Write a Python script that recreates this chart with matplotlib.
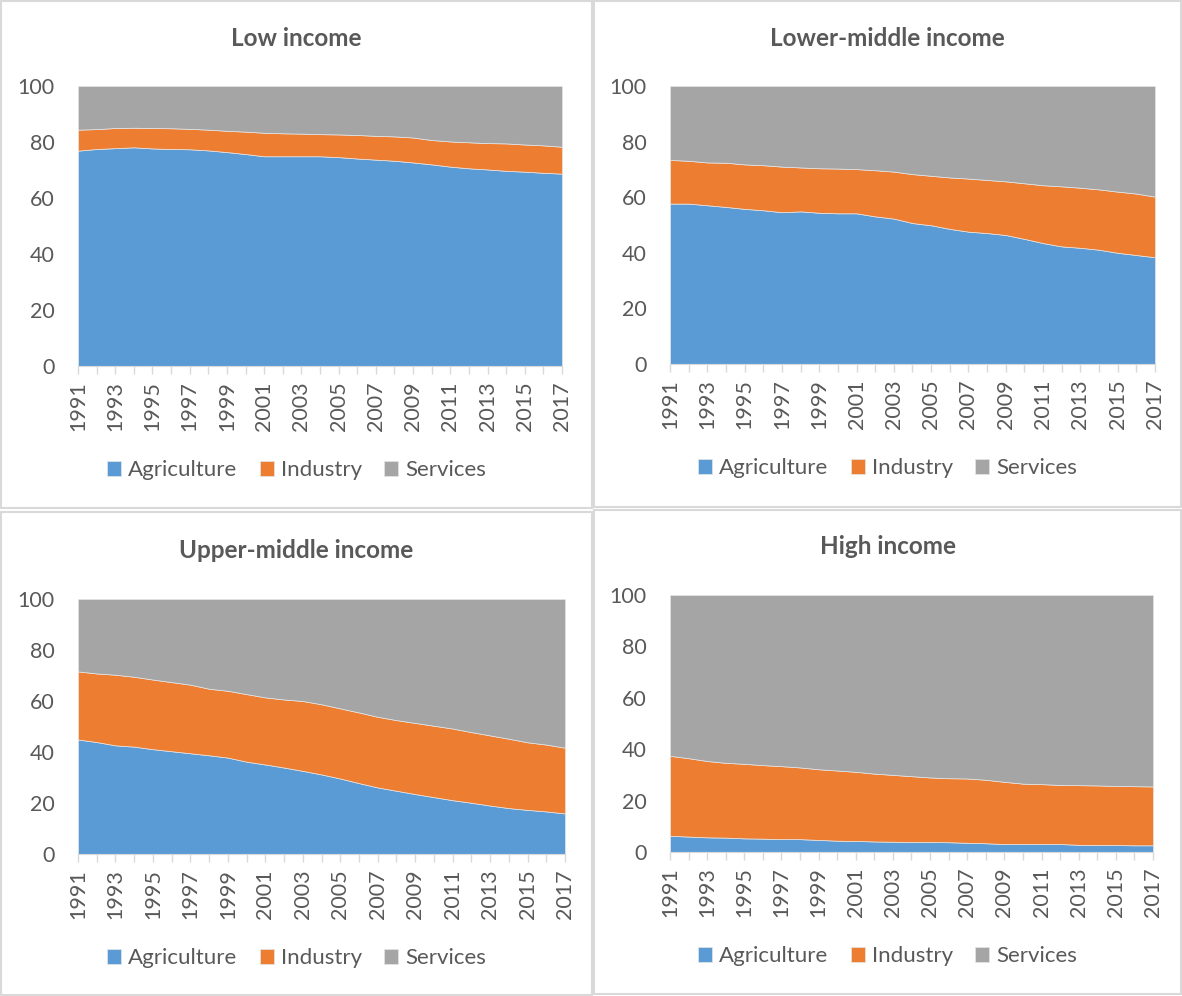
import matplotlib
matplotlib.use("Agg")
import matplotlib.pyplot as plt
from matplotlib.patches import Rectangle

plt.rcParams['font.family'] = ['Lato', 'DejaVu Sans']

years = list(range(1991, 2018))
year_labels = [str(y) if (y - 1991) % 2 == 0 else '' for y in years]
series_names = ['Agriculture', 'Industry', 'Services']
colors = ['#5B9BD5', '#ED7D31', '#A5A5A5']

# Low income
low_agri = [76.9, 77.5, 77.8, 78.1, 77.7, 77.5, 77.4, 77.0, 76.4, 75.7, 74.9, 74.9, 74.9, 74.9,
            74.6, 74.1, 73.7, 73.3, 72.7, 72.0, 71.2, 70.6, 70.2, 69.7, 69.4, 69.0, 68.7]
low_ind = [7.5, 7.1, 7.2, 7.0, 7.3, 7.4, 7.3, 7.4, 7.6, 8.0, 8.4, 8.2, 8.1, 7.9,
           8.1, 8.4, 8.5, 8.7, 8.9, 8.7, 9.0, 9.3, 9.4, 9.8, 9.7, 9.8, 9.6]
low_serv = [15.6, 15.4, 15.0, 14.9, 15.0, 15.1, 15.3, 15.6, 16.0, 16.3, 16.7, 16.9, 17.0, 17.2,
            17.3, 17.5, 17.8, 18.0, 18.4, 19.3, 19.8, 20.1, 20.4, 20.5, 20.9, 21.2, 21.7]

# Lower-middle income
lmid_agri = [57.7, 57.7, 57.1, 56.5, 55.8, 55.3, 54.6, 54.9, 54.4, 54.2, 54.2, 53.1, 52.3, 50.7,
             49.9, 48.6, 47.6, 47.1, 46.4, 45.0, 43.5, 42.3, 41.8, 41.1, 40.0, 39.2, 38.4]
lmid_ind = [15.7, 15.4, 15.4, 15.9, 16.0, 16.2, 16.4, 15.8, 16.0, 16.1, 15.9, 16.6, 16.9, 17.6,
            17.8, 18.5, 19.1, 19.1, 19.3, 20.0, 20.8, 21.6, 21.6, 21.7, 22.0, 22.1, 21.8]
lmid_serv = [26.6, 26.9, 27.5, 27.6, 28.2, 28.5, 29.0, 29.3, 29.6, 29.7, 29.9, 30.3, 30.8, 31.7,
             32.3, 32.9, 33.3, 33.8, 34.3, 35.0, 35.7, 36.1, 36.6, 37.2, 38.0, 38.7, 39.8]

# Upper-middle income
umid_agri = [44.9, 43.9, 42.6, 42.1, 41.1, 40.3, 39.5, 38.7, 37.8, 36.2, 35.1, 33.9, 32.6, 31.2,
             29.6, 27.8, 26.1, 24.8, 23.5, 22.3, 21.1, 20.1, 19.0, 18.0, 17.3, 16.7, 15.9]
umid_ind = [26.7, 26.9, 27.7, 27.4, 27.3, 27.1, 26.9, 26.1, 26.2, 26.5, 26.3, 26.7, 27.4, 27.5,
            27.5, 27.7, 27.7, 27.7, 27.9, 28.0, 28.1, 27.7, 27.5, 27.2, 26.5, 26.2, 25.8]
umid_serv = [28.4, 29.2, 29.7, 30.5, 31.6, 32.6, 33.6, 35.2, 36.0, 37.3, 38.6, 39.4, 40.0, 41.3,
             42.9, 44.5, 46.2, 47.5, 48.6, 49.7, 50.8, 52.2, 53.5, 54.8, 56.2, 57.1, 58.3]

# High income
high_agri = [6.3, 6.0, 5.7, 5.6, 5.3, 5.2, 5.0, 5.0, 4.7, 4.4, 4.3, 4.1, 4.0, 3.9,
             3.9, 3.8, 3.6, 3.4, 3.1, 3.1, 3.1, 3.1, 2.8, 2.7, 2.7, 2.6, 2.6]
high_ind = [31.1, 30.5, 29.7, 29.1, 29.0, 28.6, 28.4, 27.9, 27.5, 27.3, 26.9, 26.4, 26.0, 25.6,
            25.1, 24.9, 25.0, 24.7, 24.2, 23.5, 23.3, 23.0, 23.2, 23.2, 23.0, 23.0, 22.9]
high_serv = [62.6, 63.5, 64.6, 65.3, 65.7, 66.2, 66.6, 67.1, 67.8, 68.3, 68.8, 69.5, 70.0, 70.5,
             71.0, 71.3, 71.4, 71.9, 72.7, 73.4, 73.6, 73.9, 74.0, 74.1, 74.3, 74.4, 74.5]

W, H = 1182, 996
fig = plt.figure(figsize=(W / 100, H / 100), dpi=100)

# (title, data, panel box px (x0, y0, x1, y1), axes px (x0, y0, x1, y1), title y px, legend y px)
panels = [
    ('Low income', (low_agri, low_ind, low_serv),
     (1, 1, 592, 508), (78, 86, 562, 366), 38, 470),
    ('Lower-middle income', (lmid_agri, lmid_ind, lmid_serv),
     (594, 1, 1181, 507), (670, 86, 1155, 364), 38, 468),
    ('Upper-middle income', (umid_agri, umid_ind, umid_serv),
     (1, 512, 592, 995), (78, 599, 565, 854), 550, 958),
    ('High income', (high_agri, high_ind, high_serv),
     (594, 510, 1181, 994), (670, 595, 1153, 852), 547, 956),
]

text_col = '#595959'

for title, data, box, axpx, ty, ly in panels:
    # panel border
    bx0, by0, bx1, by1 = box
    fig.patches.append(Rectangle((bx0 / W, 1 - by1 / H), (bx1 - bx0) / W, (by1 - by0) / H,
                                 transform=fig.transFigure, fill=False,
                                 edgecolor='#D9D9D9', linewidth=1.5))
    x0, y0, x1, y1 = axpx
    ax = fig.add_axes([x0 / W, 1 - y1 / H, (x1 - x0) / W, (y1 - y0) / H])
    ax.stackplot(years, *data, colors=colors, labels=series_names,
                 edgecolor='#E6E6E6', linewidth=0.5)
    ax.set_xlim(1991, 2017)
    ax.set_ylim(0, 100)
    ax.set_yticks([0, 20, 40, 60, 80, 100])
    ax.set_xticks(years)
    ax.set_xticklabels(year_labels, rotation=90)
    for s in ['top', 'right', 'left']:
        ax.spines[s].set_visible(False)
    ax.spines['bottom'].set_color('#D9D9D9')
    ax.tick_params(axis='y', length=0, pad=17, labelsize=15.5, labelcolor=text_col)
    ax.tick_params(axis='x', length=6, width=1, color='#D9D9D9', pad=5,
                   labelsize=15.5, labelcolor=text_col)
    cx = (bx0 + bx1) / 2 / W
    fig.text(cx, 1 - ty / H, title, ha='center', va='center', fontsize=17.5,
             fontweight='bold', color=text_col)
    ax.legend(loc='center', bbox_to_anchor=(cx, 1 - ly / H),
              bbox_transform=fig.transFigure, ncol=3, frameon=False,
              fontsize=16, labelcolor=text_col, handlelength=0.65, handleheight=0.65,
              handletextpad=0.3, columnspacing=1.0)

fig.savefig('out.png', dpi=100)
